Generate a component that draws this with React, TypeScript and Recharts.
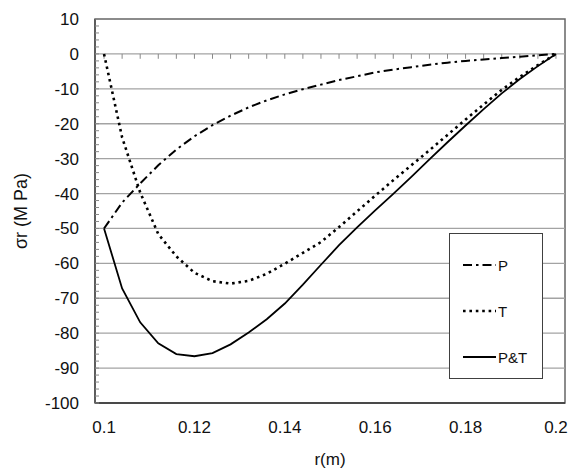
import React from "react";
import { LineChart, Line, XAxis, YAxis, ReferenceLine, ReferenceArea, Legend } from "recharts";

// radius (m), one point every 0.004
const R = [0.1, 0.104, 0.108, 0.112, 0.116, 0.12, 0.124, 0.128, 0.132, 0.136, 0.14, 0.144, 0.148, 0.152, 0.156, 0.16, 0.164, 0.168, 0.172, 0.176, 0.18, 0.184, 0.188, 0.192, 0.196, 0.2];
// radial stress (MPa) read off the figure
const P = [-50, -42.6, -37.1, -31.9, -27.4, -23.6, -20.4, -17.7, -15.3, -13.3, -11.6, -10.1, -8.8, -7.5, -6.4, -5.3, -4.5, -3.8, -3.1, -2.5, -2.0, -1.6, -1.2, -0.8, -0.4, 0];
const T = [0, -23.9, -39.7, -51.6, -58.0, -62.7, -65.1, -65.8, -65.0, -63.0, -60.1, -57.0, -53.9, -49.6, -45.1, -40.6, -36.2, -31.9, -27.6, -23.2, -18.8, -14.5, -10.3, -6.6, -3.2, 0];
const PT = [-50, -67.2, -76.9, -82.9, -86.0, -86.6, -85.7, -83.2, -79.8, -76.0, -71.5, -66.1, -60.4, -54.8, -49.7, -44.8, -40.1, -35.2, -30.2, -25.3, -20.5, -15.8, -11.3, -7.2, -3.5, 0];

const X_TICKS = [0.1, 0.12, 0.14, 0.16, 0.18, 0.2];
const Y_GRID = [-90, -80, -70, -60, -50, -40, -30, -20, -10, 0];
const Y_MINOR: number[] = [];
for (let v = -100; v <= 10; v += 2) Y_MINOR.push(v);
const LEGEND_ORDER = ["P", "T", "P&T"];

const data = R.map((r, i) => ({ r, P: P[i], T: T[i], PT: PT[i] }));

const FONT = "'Liberation Sans', Arial, sans-serif";

const STYLES: Record<string, { dash?: string; width: number }> = {
  P: { dash: "9 4 2.5 4", width: 2 },
  T: { dash: "2.6 3.8", width: 2.6 },
  "P&T": { width: 1.8 },
};

function LegendBox({ payload }: any) {
  const items = LEGEND_ORDER.filter((n) => (payload || []).some((p: any) => p.value === n));
  return (
    <div
      style={{
        width: 94,
        height: 146,
        border: "1px solid #404040",
        background: "#fff",
        boxSizing: "border-box",
        position: "relative",
        fontFamily: FONT,
      }}
    >
      {items.map((name, i) => {
        const s = STYLES[name];
        return (
          <div
            key={name}
            style={{ position: "absolute", left: 13, top: 22 + i * 46, height: 18, display: "flex", alignItems: "center" }}
          >
            <svg width={33} height={6}>
              <line x1={0} y1={3} x2={33} y2={3} stroke="#000" strokeWidth={s.width} strokeDasharray={s.dash} />
            </svg>
            <span style={{ fontSize: 15, marginLeft: 2, color: "#111" }}>{name}</span>
          </div>
        );
      })}
    </div>
  );
}

function YTitle({ viewBox }: any) {
  const x = viewBox.x + 21;
  const y = viewBox.y + viewBox.height / 2;
  return (
    <text x={x} y={y} transform={`rotate(-90 ${x} ${y})`} textAnchor="middle" dominantBaseline="central" fontSize={18} fontFamily={FONT} fill="#111">
      σr (M Pa)
    </text>
  );
}

function XTitle({ viewBox }: any) {
  const x = viewBox.x + viewBox.width / 2;
  const y = viewBox.y + viewBox.height - 3;
  return (
    <text x={x} y={y} textAnchor="middle" fontSize={17} fontFamily={FONT} fill="#111">
      r(m)
    </text>
  );
}

export default function App() {
  return (
    <div style={{ position: "absolute", left: 0, top: 0, width: 573, height: 468, background: "#fff" }}>
      <LineChart width={573} height={468} data={data} margin={{ top: 19, right: 8, bottom: 0, left: 0 }}>
        <ReferenceArea x1={0.098} x2={0.202} y1={-100} y2={10} fill="none" stroke="#666" strokeWidth={1.5} />
        {Y_GRID.map((v) => (
          <ReferenceLine key={v} y={v} stroke="#a3a3a3" strokeWidth={1.3} />
        ))}
        {R.map((r) => (
          <ReferenceLine key={"t" + r} segment={[{ x: r, y: 0 }, { x: r, y: -1.4 }]} stroke="#888" />
        ))}
        <XAxis
          type="number"
          dataKey="r"
          domain={[0.098, 0.202]}
          allowDataOverflow
          ticks={X_TICKS}
          interval={0}
          tickFormatter={(v: number) => `${+v.toFixed(2)}`}
          tickLine={false}
          tickSize={0}
          tickMargin={18}
          height={65}
          axisLine={{ stroke: "#333", strokeWidth: 1.5 }}
          tick={{ fontSize: 17, fill: "#111", fontFamily: FONT }}
          label={<XTitle />}
        />
        <YAxis
          type="number"
          domain={[-100, 10]}
          allowDataOverflow
          ticks={Y_MINOR}
          interval={0}
          width={95}
          tickSize={-4}
          tickMargin={20}
          tickLine={{ stroke: "#888" }}
          tickFormatter={(v: number) => (v % 10 === 0 ? String(v) : "")}
          axisLine={{ stroke: "#444", strokeWidth: 1.3 }}
          tick={{ fontSize: 17, fill: "#111", fontFamily: FONT }}
          label={<YTitle />}
        />
        <Legend
          layout="vertical"
          align="center"
          verticalAlign="middle"
          content={<LegendBox />}
          wrapperStyle={{ left: 449, top: 233, width: 94, height: 146 }}
        />
        <Line name="P" dataKey="P" type="linear" stroke="#000" strokeWidth={2} strokeDasharray="9 4 2.5 4" dot={false} activeDot={false} isAnimationActive={false} />
        <Line name="T" dataKey="T" type="linear" stroke="#000" strokeWidth={2.6} strokeDasharray="2.6 3.8" dot={false} activeDot={false} isAnimationActive={false} />
        <Line name="P&T" dataKey="PT" type="linear" stroke="#000" strokeWidth={1.8} dot={false} activeDot={false} isAnimationActive={false} />
      </LineChart>
    </div>
  );
}
